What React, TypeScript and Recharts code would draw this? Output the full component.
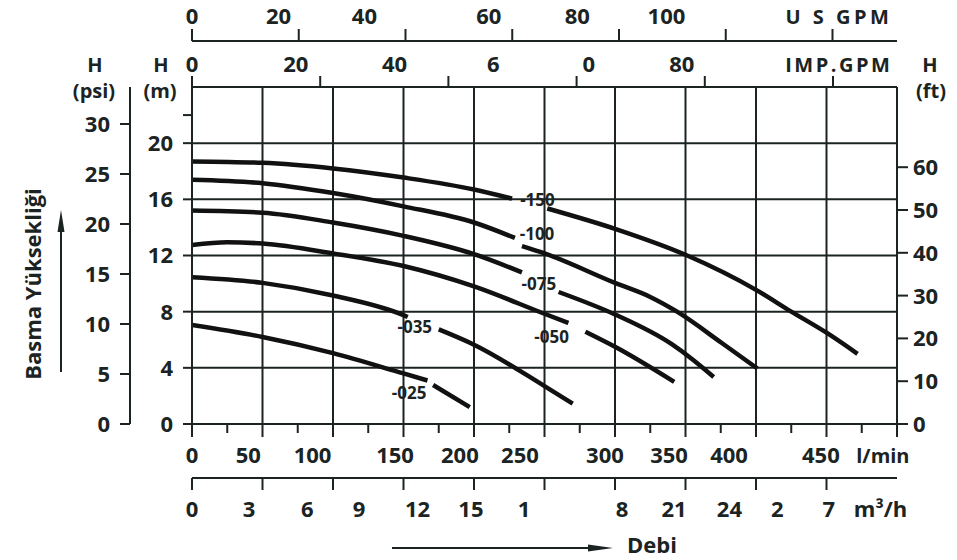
import React from 'react';
import { LineChart, Line, XAxis, YAxis, CartesianGrid, ReferenceDot, Customized } from 'recharts';

const INK = '#1b2323';
const FONT = '"Open Sans", "Noto Sans", sans-serif';

// pump curves, flow in l/min, head in m. null = break in the line next to its label
const curve150 = [[0, 18.7], [50, 18.6], [100, 18.2], [150, 17.55], [200, 16.7], [227, 16.05], [240, null], [252, 15.35], [300, 13.9], [350, 12.05], [400, 9.55], [425, 8.0], [450, 6.5], [472, 5.0]];
const curve100 = [[0, 17.4], [50, 17.15], [100, 16.45], [150, 15.5], [200, 14.35], [229, 13.25], [231, null], [234, 12.67], [250, 12.15], [300, 10.05], [325, 9.05], [344, 8.0], [376, 5.75], [401, 3.95]];
const curve075 = [[0, 15.2], [50, 15.05], [100, 14.35], [150, 13.4], [200, 12.1], [234, 10.8], [247, null], [260, 9.4], [300, 7.8], [340, 5.7], [355, 4.6], [370, 3.35]];
const curve050 = [[0, 12.75], [25, 12.95], [50, 12.85], [100, 12.15], [150, 11.25], [200, 9.8], [250, 7.85], [267, 7.2], [272, null], [279, 6.57], [300, 5.5], [342, 3.0]];
const curve035 = [[0, 10.45], [50, 10.05], [100, 9.15], [150, 7.75], [153, 7.62], [163, null], [175, 6.74], [200, 5.65], [250, 2.7], [270, 1.45]];
const curve025 = [[0, 7.05], [50, 6.2], [100, 5.05], [150, 3.6], [167, 3.1], [169, null], [171, 2.78], [197, 1.2]];

const curveNames = ['-150', '-100', '-075', '-050', '-035', '-025'];
const curveLabelAt = [[245, 15.94], [244.7, 13.56], [246, 10.0], [255, 6.23], [158, 6.9], [154, 2.24]];

// flow range of the chart (l/min) and unit factors for the other flow scales
const flowRange = [0, 500];
const M3H_PER_LPM = 0.06;
const IMP_PER_LPM = 0.219969;
const US_PER_LPM = 0.264172;

// l/min axis (bottom)
const lpmMarks = [0, 25, 50, 75, 100, 125, 150, 175, 200, 225, 250, 275, 300, 325, 350, 375, 400, 425, 450, 475, 500];
const lpmLabels = ['0', '50', '100', '150', '200', '250', '300', '350', '400', '450', 'l/min'];
const lpmLabelAt = [0, 39.9, 85.5, 144, 190, 232.6, 292.9, 338.3, 380.9, 446, 490];

// m3/h axis (bottom, second row)
const m3Marks = [0, 3, 6, 9, 12, 15, 18, 21, 24, 27];
const m3Labels = ['0', '3', '6', '9', '12', '15', '1', '8', '21', '24', '2', '7', 'm³/h'];
const m3LabelAt = [0, 2.43, 4.91, 7.11, 9.6, 11.87, 14.13, 18.3, 20.51, 22.87, 24.91, 27.1, 29.3];

// IMP GPM (top, inner)
const impMarks = [0, 20, 40, 60, 80, 100];
const impLabels = ['0', '20', '40', '6', '0', '80', 'IMP.GPM'];
const impLabelAt = [0, 16.2, 31.6, 47.0, 61.9, 76.4, 100.9];

// US GPM (top, outer)
const usMarks = [0, 20, 40, 60, 80, 100, 120];
const usLabels = ['0', '20', '40', '60', '80', '100', 'U S GPM'];
const usLabelAt = [0, 16.2, 32.3, 55.6, 72.2, 88.9, 121.2];

const mTicks = [0, 4, 8, 12, 16, 20, 22];
const mLabeled = [0, 4, 8, 12, 16, 20];
const psiTicks = [0, 5, 10, 15, 20, 25, 30];
const ftTicks = [0, 10, 20, 30, 40, 50, 60];

const gridQ = [0, 50, 100, 150, 200, 250, 300, 350, 400, 450, 500];
const gridH = [0, 4, 8, 12, 16, 20, 24];

const rows = (pts: (number | null)[][]) => pts.map(([q, h]) => ({ q, h }));
const curves = [curve150, curve100, curve075, curve050, curve035, curve025].map(rows);

// the ends of the flow range expressed in every flow unit, so each axis has a domain
const flowEnds = flowRange.map((q) => ({ q, m3: q * M3H_PER_LPM, imp: q * IMP_PER_LPM, us: q * US_PER_LPM }));

const uniq = (a: number[], b: number[]) => Array.from(new Set([...a, ...b])).sort((m, n) => m - n);

const textStyle = { fontFamily: FONT, fontWeight: 700, fill: INK };

function XTick(props: any) {
  const { x, y, payload, dir, marks, labels, labelAt, len, minorLen, textDy, spacing } = props;
  const v = payload.value;
  const mi = marks.indexOf(v);
  const li = labelAt.indexOf(v);
  const l = minorLen != null && mi % 2 === 1 ? minorLen : len;
  const isUnit = li >= 0 && labels[li].length > 4;
  return (
    <g>
      {mi >= 0 && <line x1={x} x2={x} y1={y} y2={y + dir * l} stroke={INK} strokeWidth={2} />}
      {li >= 0 && (
        <text
          x={x}
          y={y + textDy}
          textAnchor="middle"
          fontSize={isUnit ? 20 : 22}
          letterSpacing={spacing && isUnit ? spacing : 0}
          {...textStyle}
        >
          {labels[li]}
        </text>
      )}
    </g>
  );
}

function YTick(props: any) {
  const { x, y, payload, dir, labeled, len, gap } = props;
  const v = payload.value;
  return (
    <g>
      <line x1={x} x2={x + dir * len} y1={y} y2={y} stroke={INK} strokeWidth={2} />
      {labeled.includes(v) && (
        <text x={x + dir * gap} y={y} dy="0.36em" textAnchor={dir < 0 ? 'end' : 'start'} fontSize={22} {...textStyle}>
          {v}
        </text>
      )}
    </g>
  );
}

function Overlay() {
  return (
    <g {...textStyle} fontSize={20}>
      <text x={95} y={72} textAnchor="middle">H</text>
      <text x={94} y={98} textAnchor="middle">(psi)</text>
      <text x={161} y={72} textAnchor="middle">H</text>
      <text x={160} y={98} textAnchor="middle">(m)</text>
      <text x={930} y={72} textAnchor="middle">H</text>
      <text x={931} y={98} textAnchor="middle">(ft)</text>
      <text x={33} y={284} textAnchor="middle" dy="0.36em" fontSize={22} transform="rotate(-90 33 284)">Basma Yüksekliği</text>
      <line x1={61} x2={61} y1={372} y2={226} stroke={INK} strokeWidth={2} />
      <polygon points="61,210 57.5,232 64.5,232" fill={INK} />
      <line x1={392} x2={596} y1={548} y2={548} stroke={INK} strokeWidth={2} />
      <polygon points="613,548 588,544.5 588,551.5" fill={INK} />
      <text x={627} y={553} fontSize={22}>Debi</text>
    </g>
  );
}

const axisLine = { stroke: INK, strokeWidth: 2 };

export default function App() {
  return (
    <div style={{ position: 'absolute', left: 0, top: 0, background: '#fff' }}>
      <LineChart width={957} height={560} data={flowEnds} margin={{ top: 0, right: 0, bottom: 32, left: 40 }}>
        <CartesianGrid
          xAxisId="x1"
          yAxisId="y1"
          verticalValues={gridQ}
          horizontalValues={gridH}
          stroke={INK}
          strokeWidth={2}
        />
        <XAxis
          xAxisId="x1"
          dataKey="q"
          type="number"
          domain={flowRange}
          allowDataOverflow
          ticks={uniq(lpmMarks, lpmLabelAt)}
          interval={0}
          height={54}
          tickSize={0}
          tickMargin={0}
          tickLine={false}
          axisLine={axisLine}
          tick={<XTick dir={1} marks={lpmMarks} labels={lpmLabels} labelAt={lpmLabelAt} len={13} minorLen={9} textDy={39} />}
        />
        <XAxis
          xAxisId="x2"
          dataKey="m3"
          type="number"
          domain={flowRange.map((q) => q * M3H_PER_LPM)}
          allowDataOverflow
          ticks={uniq(m3Marks, m3LabelAt)}
          interval={0}
          height={50}
          tickSize={0}
          tickMargin={0}
          tickLine={false}
          axisLine={axisLine}
          tick={<XTick dir={1} marks={m3Marks} labels={m3Labels} labelAt={m3LabelAt} len={12} textDy={39} />}
        />
        <XAxis
          xAxisId="x3"
          dataKey="imp"
          orientation="top"
          type="number"
          domain={flowRange.map((q) => q * IMP_PER_LPM)}
          allowDataOverflow
          ticks={uniq(impMarks, impLabelAt)}
          interval={0}
          height={46}
          tickSize={0}
          tickMargin={0}
          tickLine={false}
          axisLine={axisLine}
          tick={<XTick dir={-1} marks={impMarks} labels={impLabels} labelAt={impLabelAt} len={11} textDy={-15} spacing={2.5} />}
        />
        <XAxis
          xAxisId="x4"
          dataKey="us"
          orientation="top"
          type="number"
          domain={flowRange.map((q) => q * US_PER_LPM)}
          allowDataOverflow
          ticks={uniq(usMarks, usLabelAt)}
          interval={0}
          height={41}
          tickSize={0}
          tickMargin={0}
          tickLine={false}
          axisLine={axisLine}
          tick={<XTick dir={-1} marks={usMarks} labels={usLabels} labelAt={usLabelAt} len={12} textDy={-17} spacing={3.5} />}
        />
        <YAxis
          yAxisId="y1"
          type="number"
          domain={[0, 24]}
          allowDataOverflow
          ticks={mTicks}
          interval={0}
          width={62}
          tickSize={0}
          tickMargin={0}
          tickLine={false}
          axisLine={axisLine}
          tick={<YTick dir={-1} labeled={mLabeled} len={9} gap={19} />}
        />
        <YAxis
          yAxisId="y2"
          type="number"
          domain={[0, 33.7]}
          allowDataOverflow
          ticks={psiTicks}
          interval={0}
          width={90}
          tickSize={0}
          tickMargin={0}
          tickLine={false}
          axisLine={axisLine}
          tick={<YTick dir={-1} labeled={psiTicks} len={10} gap={20} />}
        />
        <YAxis
          yAxisId="y3"
          orientation="right"
          type="number"
          domain={[0, 78.74]}
          allowDataOverflow
          ticks={ftTicks}
          interval={0}
          width={60}
          tickSize={0}
          tickMargin={0}
          tickLine={false}
          axisLine={axisLine}
          tick={<YTick dir={1} labeled={ftTicks} len={11} gap={16} />}
        />
        {curves.map((d, i) => (
          <Line
            key={curveNames[i]}
            xAxisId="x1"
            yAxisId="y1"
            data={d}
            dataKey="h"
            type="monotone"
            stroke="#111"
            strokeWidth={4.5}
            dot={false}
            activeDot={false}
            isAnimationActive={false}
          />
        ))}
        {curveNames.map((name, i) => (
          <ReferenceDot
            key={'lab' + name}
            xAxisId="x1"
            yAxisId="y1"
            x={curveLabelAt[i][0]}
            y={curveLabelAt[i][1]}
            r={0}
            fill="none"
            stroke="none"
            label={{ value: name, position: 'center', fontSize: 17, fontFamily: FONT, fontWeight: 700, fill: INK }}
          />
        ))}
        <Customized component={Overlay} />
      </LineChart>
    </div>
  );
}
